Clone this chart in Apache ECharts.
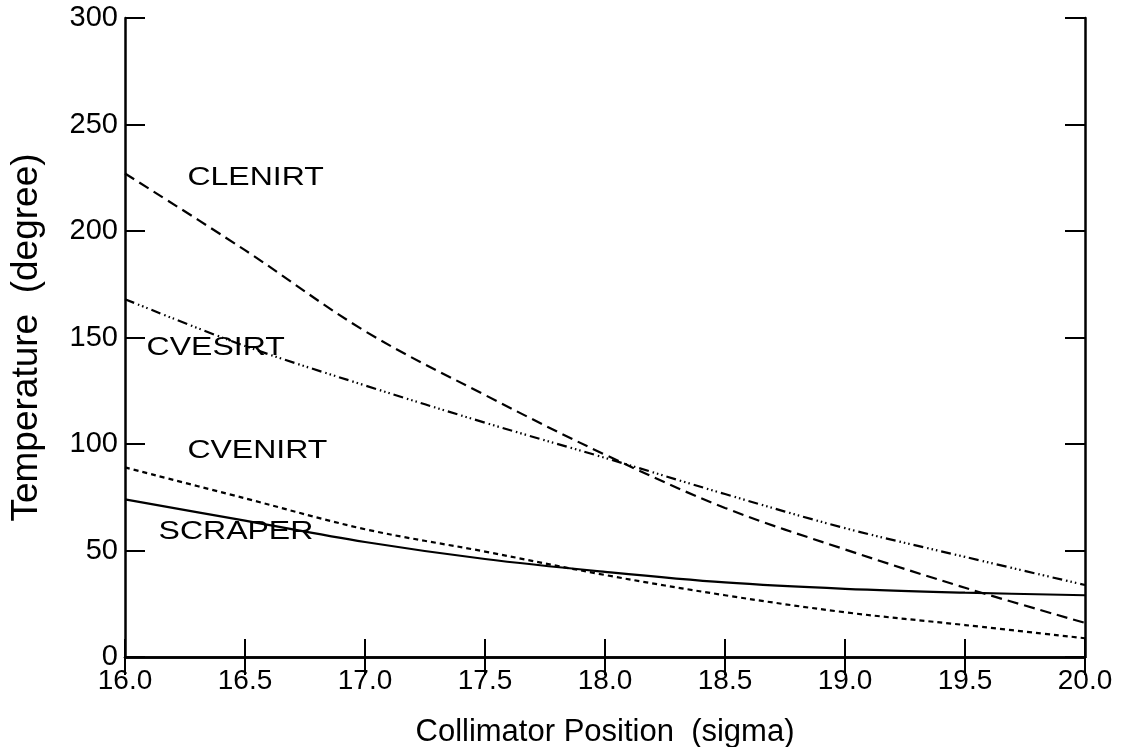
<!DOCTYPE html>
<html>
<head>
<meta charset="utf-8">
<script src="https://cdn.jsdelivr.net/npm/echarts@6/dist/echarts.min.js"></script>
<style>
  html, body { margin: 0; padding: 0; background: #fff; }
  #chart { width: 1124px; height: 747px; }
</style>
</head>
<body>
<div id="chart"></div>
<script>
// Collimator position (sigma) along the x axis
const positions = [16.0, 16.5, 17.0, 17.5, 18.0, 18.5, 19.0, 19.5, 20.0];

// Temperature (degree) per element at each position
const clenirt = [227, 191, 153, 123, 95, 70, 50.5, 32.5, 16];
const cvesirt = [168, 146, 127.5, 110, 93.5, 76.5, 60.5, 47, 33.8];
const cvenirt = [89, 74.5, 60, 49.5, 38.5, 29, 21, 15, 8.8];
const scraper = [74, 64, 54, 46, 40, 35, 32, 30.2, 29];

// Curve names and where their captions sit, in data units
const captionNames = ['CLENIRT', 'CVESIRT', 'CVENIRT', 'SCRAPER'];
const captionX = [16.26, 16.09, 16.26, 16.14];
const captionY = [225, 145, 96.5, 58.7];

const FONT = '"Liberation Sans", Arial, Helvetica, sans-serif';
const INK = '#000';

function pairs(values) {
  return positions.map((x, i) => [x, values[i]]);
}

function curve(name, values, dash) {
  return {
    name: name,
    type: 'line',
    data: pairs(values),
    smooth: 0.35,
    showSymbol: false,
    silent: true,
    lineStyle: { color: INK, width: 2.2, type: dash },
    z: 3
  };
}

const chart = echarts.init(document.getElementById('chart'), null, { renderer: 'canvas' });

const axisLine = { show: true, lineStyle: { color: INK, width: 2.5 } };

chart.setOption({
  backgroundColor: '#fff',
  animation: false,
  grid: { left: 125, right: 39, top: 18, bottom: 90, containLabel: false, outerBoundsMode: 'none' },
  xAxis: [
    {
      type: 'value', min: 16, max: 20, interval: 0.5,
      name: 'Collimator Position  (sigma)',
      nameLocation: 'middle', nameGap: 60,
      nameTextStyle: { fontFamily: FONT, fontSize: 31, color: INK },
      axisLine: axisLine,
      axisTick: { show: true, inside: true, length: 18, lineStyle: { color: INK, width: 2 } },
      axisLabel: { fontFamily: FONT, fontSize: 28, color: INK, margin: 10,
                   formatter: v => v.toFixed(1) },
      splitLine: { show: false }
    },
    {
      type: 'value', min: 16, max: 20, interval: 0.5, position: 'top',
      axisLine: axisLine,
      axisTick: { show: true, inside: true, length: 18, lineStyle: { color: INK, width: 2 } },
      axisLabel: { show: false },
      splitLine: { show: false }
    }
  ],
  yAxis: [
    {
      type: 'value', min: 0, max: 300, interval: 50,
      name: 'Temperature  (degree)',
      nameLocation: 'middle', nameGap: 80, nameRotate: 90,
      nameTextStyle: { fontFamily: FONT, fontSize: 37, color: INK },
      axisLine: axisLine,
      axisTick: { show: true, inside: true, length: 20, lineStyle: { color: INK, width: 2 } },
      axisLabel: { fontFamily: FONT, fontSize: 29, color: INK, margin: 7 },
      splitLine: { show: false }
    },
    {
      type: 'value', min: 0, max: 300, interval: 50, position: 'right',
      axisLine: axisLine,
      axisTick: { show: true, inside: true, length: 20, lineStyle: { color: INK, width: 2 } },
      axisLabel: { show: false },
      splitLine: { show: false }
    }
  ],
  series: [
    curve('CLENIRT', clenirt, [11, 6]),
    curve('CVESIRT', cvesirt, [10, 4, 1.5, 3, 1.5, 3, 1.5, 4]),
    curve('CVENIRT', cvenirt, [5, 4]),
    curve('SCRAPER', scraper, 'solid'),
    {
      // curve captions, widened like the plotter lettering
      type: 'custom',
      silent: true,
      z: 5,
      data: captionNames.map((n, i) => [captionX[i], captionY[i], n]),
      renderItem: function (params, api) {
        const p = api.coord([api.value(0), api.value(1)]);
        return {
          type: 'text',
          x: p[0], y: p[1],
          scaleX: 1.28,
          style: {
            text: captionNames[params.dataIndex],
            fontFamily: FONT, fontSize: 25, fill: INK,
            align: 'left', verticalAlign: 'middle'
          }
        };
      }
    }
  ]
});
</script>
</body>
</html>
